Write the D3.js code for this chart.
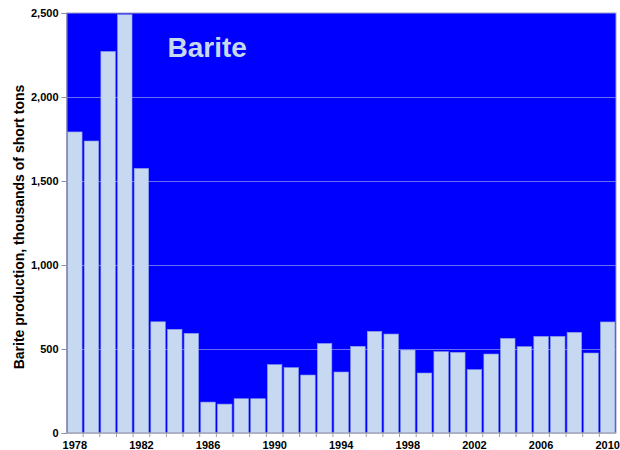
<!DOCTYPE html>
<html>
<head>
<meta charset="utf-8">
<script src="https://cdn.jsdelivr.net/npm/d3@7"></script>
<style>
  body { margin: 0; background: #fff; }
  svg { display: block; font-family: "Liberation Sans", Arial, sans-serif; }
</style>
</head>
<body>
<div class="chart"></div>
<script>
// barite production, thousands of short tons
var years = d3.range(1978, 2011);
var production = [1792, 1738, 2271, 2490, 1575, 662, 617, 593, 184, 172, 204, 204,
    407, 389, 345, 533, 363, 516, 605, 589, 494, 357, 484, 480, 377, 470, 563, 514,
    575, 575, 599, 476, 661];
var yTicks = [0, 500, 1000, 1500, 2000, 2500];
var xLabels = [1978, 1982, 1986, 1990, 1994, 1998, 2002, 2006, 2010];

var config = {};
config.svg = { width: 620, height: 450 };
config.margin = { top: 13, right: 4, bottom: 17, left: 66.5 };
config.plot = {
    width: config.svg.width - config.margin.left - config.margin.right,
    height: config.svg.height - config.margin.top - config.margin.bottom
};

var rows = years.map((y, i) => ({ year: y, value: production[i] }));

var translate = (x, y) => "translate(" + x + "," + y + ")";

var svg = d3.select(".chart")
    .append("svg")
    .attr("width", config.svg.width)
    .attr("height", config.svg.height);

var plot = svg.append("g")
    .attr("transform", translate(config.margin.left, config.margin.top));

var xScale = d3.scaleBand()
    .domain(years)
    .range([0, config.plot.width])
    .paddingInner(0.13)
    .paddingOuter(0.065);

var yScale = d3.scaleLinear()
    .domain([0, 2500])
    .range([config.plot.height, 0]);

// blue plot background
plot.append("rect")
    .attr("width", config.plot.width)
    .attr("height", config.plot.height)
    .attr("fill", "#0000ff")
    .attr("stroke", "#a0a0c8")
    .attr("stroke-width", 1);

// gridlines
plot.append("g")
    .selectAll("line")
    .data(yTicks.filter(d => d > 0 && d < 2500))
    .enter().append("line")
    .attr("x1", 0)
    .attr("x2", config.plot.width)
    .attr("y1", d => Math.round(yScale(d)) + 0.5)
    .attr("y2", d => Math.round(yScale(d)) + 0.5)
    .attr("stroke", "#6c6cf8")
    .attr("stroke-width", 1);

// title inside plot
plot.append("text")
    .text("Barite")
    .attr("x", 101)
    .attr("y", 44)
    .attr("font-size", "28px")
    .attr("font-weight", "bold")
    .attr("fill", "#c6d9f1");

// bars
plot.selectAll("rect.bar")
    .data(rows)
    .enter().append("rect")
    .attr("class", "bar")
    .attr("x", d => xScale(d.year))
    .attr("width", xScale.bandwidth())
    .attr("y", d => yScale(d.value))
    .attr("height", d => config.plot.height - yScale(d.value))
    .attr("fill", "#c6d9f1")
    .attr("stroke", "#8c9ee6")
    .attr("stroke-width", 0.6);

// y axis
var yAxis = d3.axisLeft(yScale)
    .tickValues(yTicks)
    .tickFormat(d3.format(","))
    .tickSize(5)
    .tickPadding(3);

var yG = plot.append("g")
    .attr("class", "y axis")
    .call(yAxis);
yG.select(".domain").attr("stroke", "#9090c0");
yG.selectAll(".tick line").attr("stroke", "#9090a0");
yG.selectAll("text")
    .attr("font-size", "11px")
    .attr("font-weight", "bold")
    .attr("fill", "#000")
    .attr("font-family", "Liberation Sans, Arial, sans-serif");

// x axis: tick marks at band boundaries, labels every 4 years
var xG = plot.append("g")
    .attr("class", "x axis")
    .attr("transform", translate(0, config.plot.height));
xG.append("line")
    .attr("x1", 0)
    .attr("x2", config.plot.width)
    .attr("stroke", "#a0a0a0");
xG.selectAll("line.tick")
    .data(years.slice(1))
    .enter().append("line")
    .attr("class", "tick")
    .attr("x1", d => xScale(d) - xScale.step() * xScale.paddingInner() / 2)
    .attr("x2", d => xScale(d) - xScale.step() * xScale.paddingInner() / 2)
    .attr("y1", 0)
    .attr("y2", 4)
    .attr("stroke", "#a0a0a0");
xG.selectAll("text")
    .data(xLabels)
    .enter().append("text")
    .text(d => d)
    .attr("x", d => xScale(d) + xScale.bandwidth() / 2)
    .attr("y", 16)
    .attr("text-anchor", "middle")
    .attr("font-size", "11px")
    .attr("font-weight", "bold")
    .attr("fill", "#000");

// y axis title
svg.append("text")
    .text("Barite production, thousands of short tons")
    .attr("transform", translate(24, 227) + " rotate(-90)")
    .attr("text-anchor", "middle")
    .attr("font-size", "14px")
    .attr("font-weight", "bold")
    .attr("fill", "#000");
</script>
</body>
</html>
